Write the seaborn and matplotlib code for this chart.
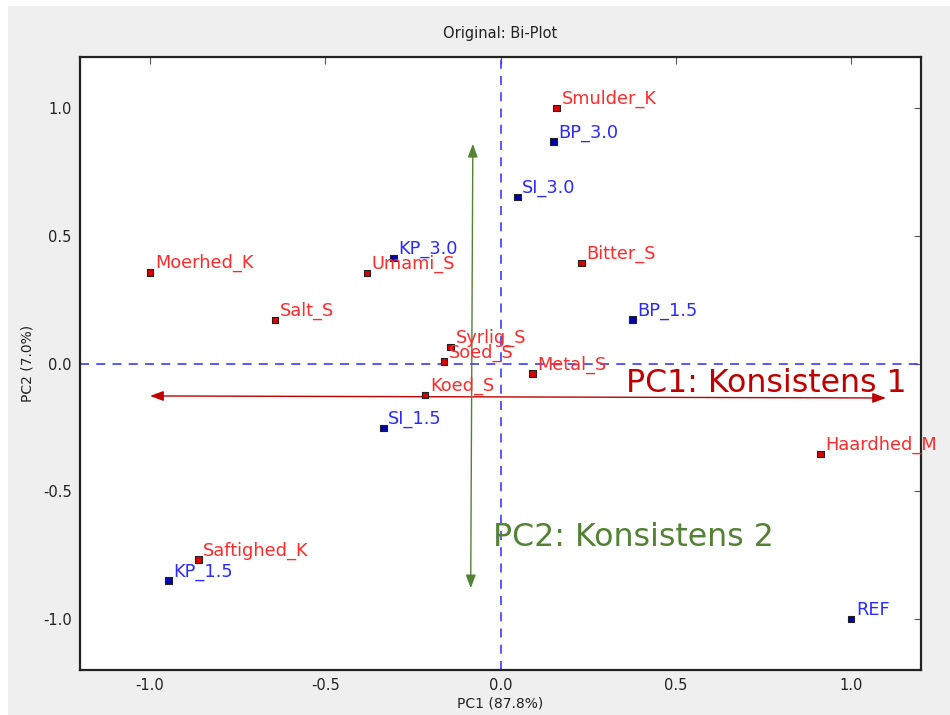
import matplotlib
matplotlib.use("Agg")
import matplotlib.pyplot as plt
import seaborn as sns
import pandas as pd
from matplotlib.patches import Rectangle

# Loadings (sensory attributes)
attr_names = ["Smulder_K", "Bitter_S", "Moerhed_K", "Umami_S", "Salt_S", "Syrlig_S",
              "Soed_S", "Metal_S", "Koed_S", "Haardhed_M", "Saftighed_K"]
attr_pc1 = [0.160, 0.231, -1.000, -0.381, -0.644, -0.142, -0.161, 0.091, -0.215, 0.913, -0.862]
attr_pc2 = [1.000, 0.394, 0.357, 0.354, 0.170, 0.065, 0.008, -0.040, -0.124, -0.355, -0.768]

# Scores (samples)
sample_names = ["BP_3.0", "SI_3.0", "KP_3.0", "BP_1.5", "SI_1.5", "KP_1.5", "REF"]
sample_pc1 = [0.151, 0.048, -0.305, 0.377, -0.334, -0.947, 1.000]
sample_pc2 = [0.869, 0.651, 0.414, 0.172, -0.252, -0.850, -1.000]

x_label = "PC1 (87.8%)"
y_label = "PC2 (7.0%)"
title = "Original: Bi-Plot"
ticks = [-1.0, -0.5, 0.0, 0.5, 1.0]

pc1_axis = {"label": "PC1: Konsistens 1", "start": (1.10, -0.135), "end": (-1.00, -0.127)}
pc2_axis = {"label": "PC2: Konsistens 2", "start": (-0.079, 0.86), "end": (-0.085, -0.88)}

df = pd.DataFrame({
    "name": attr_names + sample_names,
    "PC1": attr_pc1 + sample_pc1,
    "PC2": attr_pc2 + sample_pc2,
    "kind": ["attribute"] * len(attr_names) + ["sample"] * len(sample_names),
})

sns.set_style("white")
plt.rcParams["font.family"] = ["DejaVu Sans"]

fig = plt.figure(figsize=(9.5, 7.15), dpi=100, facecolor="white")
fig.patches.append(Rectangle((8 / 950, 0), 1, 1 - 6 / 715, transform=fig.transFigure,
                             facecolor="#efefef", edgecolor="none", zorder=-10))
ax = fig.add_axes([80 / 950, 1 - 670 / 715, 841 / 950, 613 / 715])
ax.set_facecolor("white")

ax.axhline(0, color="#2b2bff", ls="--", lw=1.3, dashes=(5, 4), alpha=0.85, zorder=1)
ax.axvline(0, color="#2b2bff", ls="--", lw=1.3, dashes=(5, 4), alpha=0.85, zorder=1)

sns.scatterplot(data=df, x="PC1", y="PC2", hue="kind",
                palette={"attribute": "#dd0000", "sample": "#0000b0"},
                marker="s", s=22, edgecolor="#222222", linewidth=0.8,
                legend=False, ax=ax, zorder=4)

text_colors = {"attribute": "#ff2a2a", "sample": "#2a2aff"}
for _, row in df.iterrows():
    ax.annotate(row["name"], (row["PC1"], row["PC2"]), xytext=(3.5, 3),
                textcoords="offset points", va="baseline", ha="left",
                fontsize=12.8, color=text_colors[row["kind"]], zorder=5,
                annotation_clip=False)

ax.annotate("", xy=pc1_axis["end"], xytext=pc1_axis["start"],
            arrowprops=dict(arrowstyle="<|-|>,head_length=0.8,head_width=0.3",
                            color="#c00000", lw=1.0, shrinkA=0, shrinkB=0), zorder=3)
ax.annotate("", xy=pc2_axis["end"], xytext=pc2_axis["start"],
            arrowprops=dict(arrowstyle="<|-|>,head_length=0.8,head_width=0.3",
                            color="#548235", lw=1.0, shrinkA=0, shrinkB=0), zorder=3)
ax.text(0.358, -0.11, pc1_axis["label"], color="#c00000", fontsize=22.8,
        va="baseline", ha="left", zorder=6)
ax.text(-0.022, -0.715, pc2_axis["label"], color="#548235", fontsize=22.8,
        va="baseline", ha="left", zorder=6)

ax.set_xlim(-1.2, 1.2)
ax.set_ylim(-1.2, 1.2)
ax.set_xticks(ticks)
ax.set_yticks(ticks)
ax.set_xticklabels([f"{t:.1f}" for t in ticks])
ax.set_yticklabels([f"{t:.1f}" for t in ticks])
ax.tick_params(direction="in", length=5, width=0.8, color="#555555",
               top=True, right=True, labelsize=10.5, pad=6, labelcolor="#222222")
for sp in ax.spines.values():
    sp.set_visible(True)
    sp.set_color("#222222")
    sp.set_linewidth(1.6)

ax.set_xlabel(x_label, fontsize=10, labelpad=2, color="#222222")
ax.set_ylabel(y_label, fontsize=10, labelpad=6, color="#222222")
ax.set_title(title, fontsize=10.5, pad=14, color="#222222")

fig.savefig("out.png", dpi=100, facecolor=fig.get_facecolor())
